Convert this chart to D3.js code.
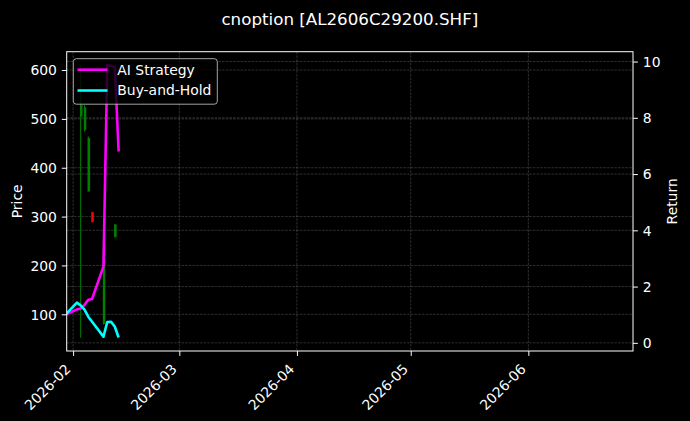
<!DOCTYPE html>
<html>
<head>
<meta charset="utf-8">
<script src="https://cdn.jsdelivr.net/npm/d3@7"></script>
<style>
  html, body { margin: 0; padding: 0; background: #000; }
  svg { display: block; font-family: "DejaVu Sans", sans-serif; }
</style>
</head>
<body>
<svg id="chart" width="690" height="421"></svg>
<script>
// ---- data ----
const lineDates = ["2026-01-30","2026-02-02","2026-02-03","2026-02-04","2026-02-05","2026-02-06","2026-02-09","2026-02-10","2026-02-11","2026-02-12","2026-02-13"];
const aiReturn = [1.0, 1.19, 1.22, 1.35, 1.53, 1.56, 2.71, 9.87, 9.85, 9.80, 6.80];
const bhReturn = [1.0, 1.43, 1.33, 1.18, 0.93, 0.75, 0.22, 0.74, 0.75, 0.57, 0.19];

const candleDates = ["2026-02-03","2026-02-04","2026-02-05","2026-02-06","2026-02-09","2026-02-12"];
const candleOpen  = [505, 477, 352, 309,  80, 258];
const candleHigh  = [610, 528, 464, 310, 258, 285];
const candleLow   = [ 52, 474, 350, 288,  79, 257];
const candleClose = [528, 524, 461, 289, 250, 284];

const priceTicks = [100, 200, 300, 400, 500, 600];
const returnTicks = [0, 2, 4, 6, 8, 10];
const monthTicks = ["2026-02-01","2026-03-01","2026-04-01","2026-05-01","2026-06-01"];
const title = "cnoption [AL2606C29200.SHF]";
const seriesNames = ["AI Strategy", "Buy-and-Hold"];

// ---- layout ----
const W = 690, H = 421;
const L = 66.7, R = 633, T = 51.7, B = 351;
const parse = d3.timeParse("%Y-%m-%d");
const fmt = d3.timeFormat("%Y-%m");

const x = d3.scaleTime()
  .domain([new Date(2026, 0, 30, 7, 30), new Date(2026, 5, 28, 14, 0)])
  .range([L, R]);
const yP = d3.scaleLinear().domain([24.9, 637.5]).range([B, T]);
const yR = d3.scaleLinear().domain([-0.29, 10.35]).range([B, T]);

const svg = d3.select("#chart");
svg.append("rect").attr("width", W).attr("height", H).attr("fill", "#000");

svg.append("defs").append("clipPath").attr("id", "clip")
  .append("rect").attr("x", L).attr("y", T).attr("width", R - L).attr("height", B - T);

// grid
const grid = svg.append("g").attr("stroke", "#fff").attr("stroke-opacity", 0.3)
  .attr("stroke-width", 0.6).attr("stroke-dasharray", "2.6,1.1");
monthTicks.forEach(d => {
  const xx = x(parse(d));
  grid.append("line").attr("x1", xx).attr("x2", xx).attr("y1", T).attr("y2", B);
});
priceTicks.forEach(v => {
  grid.append("line").attr("x1", L).attr("x2", R).attr("y1", yP(v)).attr("y2", yP(v));
});
returnTicks.forEach(v => {
  grid.append("line").attr("x1", L).attr("x2", R).attr("y1", yR(v)).attr("y2", yR(v));
});

// candles
const plot = svg.append("g").attr("clip-path", "url(#clip)");
const candles = candleDates.map((d, i) => ({
  date: parse(d), o: candleOpen[i], h: candleHigh[i], l: candleLow[i], c: candleClose[i]
}));
const cg = plot.append("g");
cg.selectAll("line.wick").data(candles).join("line")
  .attr("class", "wick")
  .attr("x1", d => x(d.date)).attr("x2", d => x(d.date))
  .attr("y1", d => yP(d.h)).attr("y2", d => yP(d.l))
  .attr("stroke", d => d.c >= d.o ? "#008000" : "#ff0000")
  .attr("stroke-width", 1);
cg.selectAll("line.body").data(candles).join("line")
  .attr("class", "body")
  .attr("x1", d => x(d.date) + 0.6).attr("x2", d => x(d.date) + 0.6)
  .attr("y1", d => yP(Math.max(d.o, d.c))).attr("y2", d => yP(Math.min(d.o, d.c)))
  .attr("stroke", d => d.c >= d.o ? "#008000" : "#ff0000")
  .attr("stroke-width", 2.4);

// return lines
const pts = lineDates.map((d, i) => ({ date: parse(d), ai: aiReturn[i], bh: bhReturn[i] }));
const lineAI = d3.line().x(d => x(d.date)).y(d => yR(d.ai));
const lineBH = d3.line().x(d => x(d.date)).y(d => yR(d.bh));
plot.append("path").datum(pts).attr("d", lineAI)
  .attr("fill", "none").attr("stroke", "#ff00ff").attr("stroke-width", 2.6)
  .attr("stroke-linejoin", "round").attr("stroke-linecap", "butt");
plot.append("path").datum(pts).attr("d", lineBH)
  .attr("fill", "none").attr("stroke", "#00ffff").attr("stroke-width", 2.6)
  .attr("stroke-linejoin", "round").attr("stroke-linecap", "butt");

// axes frame
svg.append("rect").attr("x", L).attr("y", T).attr("width", R - L).attr("height", B - T)
  .attr("fill", "none").attr("stroke", "#fff").attr("stroke-width", 1);

const tickFont = 13.9;
// left axis
const gl = svg.append("g").attr("transform", `translate(${L},0)`);
gl.call(d3.axisLeft(yP).tickValues(priceTicks).tickSize(4.9).tickPadding(4.9).tickFormat(d3.format("d")));
// bottom axis
const gb = svg.append("g").attr("transform", `translate(0,${B})`);
gb.call(d3.axisBottom(x).tickValues(monthTicks.map(parse)).tickSize(4.9).tickFormat(fmt));
// right axis
const gr = svg.append("g").attr("transform", `translate(${R},0)`);
gr.call(d3.axisRight(yR).tickValues(returnTicks).tickSize(4.9).tickPadding(4.9).tickFormat(d3.format("d")));

[gl, gb, gr].forEach(g => {
  g.select(".domain").remove();
  g.selectAll(".tick line").attr("stroke", "#fff").attr("stroke-width", 1);
  g.selectAll(".tick text").attr("fill", "#fff").attr("font-size", tickFont)
    .attr("font-family", "DejaVu Sans, sans-serif");
});
gl.selectAll(".tick text").attr("dy", "0.35em");
gr.selectAll(".tick text").attr("dy", "0.35em");

// rotated x tick labels: bbox top-right corner at (tickX, B+9.8)
const hTxt = 16;
gb.selectAll(".tick text")
  .attr("text-anchor", "end")
  .attr("dominant-baseline", "central")
  .attr("dy", null)
  .attr("y", 0)
  .attr("x", 0)
  .attr("transform", `translate(${-0.354 * hTxt},${9.8 + 0.354 * hTxt}) rotate(-45)`);

// axis labels
svg.append("text").attr("transform", `translate(17,${(T + B) / 2}) rotate(-90)`)
  .attr("text-anchor", "middle").attr("dominant-baseline", "central")
  .attr("fill", "#fff").attr("font-size", tickFont).text("Price");
svg.append("text").attr("transform", `translate(672,${(T + B) / 2}) rotate(-90)`)
  .attr("text-anchor", "middle").attr("dominant-baseline", "central")
  .attr("fill", "#fff").attr("font-size", tickFont).text("Return");

// title
svg.append("text").attr("x", (L + R) / 2).attr("y", 25)
  .attr("text-anchor", "middle").attr("fill", "#fff").attr("font-size", 16.7).text(title);

// legend
const lg = svg.append("g");
lg.append("rect").attr("x", 73.3).attr("y", 58.7).attr("width", 144).attr("height", 45.5)
  .attr("rx", 3).attr("ry", 3)
  .attr("fill", "#000").attr("fill-opacity", 0.8)
  .attr("stroke", "#ccc").attr("stroke-opacity", 0.8).attr("stroke-width", 1);
const legendColors = ["#ff00ff", "#00ffff"];
const legendY = [69.7, 90.5];
seriesNames.forEach((n, i) => {
  lg.append("line").attr("x1", 77.5).attr("x2", 107.5).attr("y1", legendY[i]).attr("y2", legendY[i])
    .attr("stroke", legendColors[i]).attr("stroke-width", 2.6);
  lg.append("text").attr("x", 117.3).attr("y", legendY[i]).attr("dy", "0.35em")
    .attr("fill", "#fff").attr("font-size", tickFont).text(n);
});
</script>
</body>
</html>
